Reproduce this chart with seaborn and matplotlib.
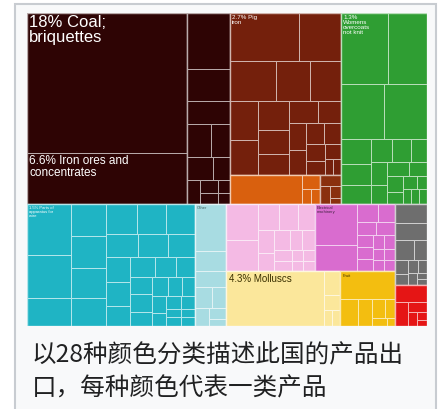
import matplotlib
matplotlib.use("Agg")
import matplotlib.pyplot as plt
from matplotlib.patches import Rectangle
import seaborn as sns

# export shares (%) per product, grouped by colour category
coal_iron = [18.0, 6.6]
minerals_other = [1.9, 1.1, 0.75, 0.65, 0.5, 0.45, 0.3, 0.25, 0.2, 0.15, 0.12, 0.1]
metals = [2.7, 1.6, 1.5, 1.1, 1.0, 0.9, 0.8, 0.7, 0.6, 0.5, 0.5, 0.4, 0.4,
          0.35, 0.3, 0.3, 0.25, 0.2, 0.2, 0.1, 0.1]
chemicals = [1.7, 0.2, 0.1, 0.1]
metals_small = [0.2, 0.15, 0.1, 0.05]
garments = [2.7, 2.2, 1.9, 1.9, 0.6, 0.5, 0.45, 0.4, 0.35, 0.3, 0.3, 0.25,
            0.25, 0.2, 0.2, 0.15, 0.15, 0.1, 0.1, 0.1, 0.1]
machinery = [1.8, 1.5, 1.0, 0.9, 0.9, 0.85, 0.8, 0.75, 0.7, 0.7, 0.6, 0.55,
             0.5, 0.5, 0.45, 0.4, 0.4, 0.35, 0.3, 0.3, 0.3, 0.25, 0.25, 0.2,
             0.2, 0.2, 0.15, 0.15, 0.15, 0.1, 0.1, 0.1, 0.1]
other_goods = [1.2, 0.5, 0.4, 0.3, 0.25, 0.2, 0.15, 0.1]
electronics = [0.9, 0.8, 0.45, 0.4, 0.35, 0.3, 0.25, 0.25, 0.2, 0.2, 0.15,
               0.15, 0.1, 0.1, 0.1, 0.1]
electrical = [1.4, 0.9, 0.3, 0.25, 0.2, 0.2, 0.15, 0.15, 0.15, 0.12, 0.12,
              0.1, 0.1, 0.1, 0.1]
seafood = [4.3, 0.3, 0.2, 0.1, 0.1]
foods = [1.2, 0.4, 0.3, 0.2, 0.15, 0.1, 0.05]
stone = [0.5, 0.45, 0.3, 0.2, 0.15, 0.12, 0.1, 0.1, 0.08, 0.05, 0.05]
transport = [0.45, 0.25, 0.15, 0.1, 0.07, 0.05]

group_values = {
    "coal_iron": coal_iron, "minerals_other": minerals_other, "metals": metals,
    "chemicals": chemicals, "metals_small": metals_small, "garments": garments,
    "machinery": machinery, "other_goods": other_goods,
    "electronics": electronics, "electrical": electrical, "seafood": seafood,
    "foods": foods, "stone": stone, "transport": transport,
}
group_colors = {
    "coal_iron": "#2e0404", "minerals_other": "#2e0404", "metals": "#74200c",
    "chemicals": "#d9600e", "metals_small": "#8a300e", "garments": "#2f9e33",
    "machinery": "#1fb4c4", "other_goods": "#a8dce2",
    "electronics": "#f4bae4", "electrical": "#d96ccf", "seafood": "#fbe79b",
    "foods": "#f3be10", "stone": "#6e6e6e", "transport": "#e51515",
}

# labels: (group, item index, text, fontsize, colour)
labels = [
    ("coal_iron", 0, "18% Coal;\nbriquettes", 12, "white"),
    ("coal_iron", 1, "6.6% Iron ores and\nconcentrates", 8.5, "white"),
    ("seafood", 0, "4.3% Molluscs", 7, "#3a3000"),
    ("metals", 0, "2.7% Pig\niron", 4.5, "white"),
    ("garments", 0, "1.3%\nWomens\novercoats\nnot knit", 4.5, "white"),
    ("machinery", 0, "1.5% Parts of\napparatus for\nwire", 3, "white"),
    ("other_goods", 0, "Other", 3, "#406060"),
    ("electrical", 0, "Electrical\nmachinery", 3, "#402040"),
    ("foods", 0, "Fruit", 3, "#403000"),
]

# layout tree: 'h' = side by side, 'v' = stacked, leaf = group name
layout = ("v", [
    ("h", [
        ("h", ["coal_iron", "minerals_other"]),
        ("v", ["metals", ("h", ["chemicals", "metals_small"])]),
        "garments",
    ]),
    ("h", [
        "machinery",
        "other_goods",
        ("v", [("h", ["electronics", "electrical"]), ("h", ["seafood", "foods"])]),
        ("v", ["stone", "transport"]),
    ]),
])


def node_total(node):
    if isinstance(node, str):
        return sum(group_values[node])
    return sum(node_total(c) for c in node[1])


def worst(row, side):
    s = sum(row)
    return max(max(side * side * r / (s * s), s * s / (side * side * r)) for r in row)


def squarify(values, x, y, w, h):
    scale = w * h / sum(values)
    areas = [v * scale for v in values]
    out = []
    while areas:
        side = min(w, h)
        row = [areas.pop(0)]
        while areas and worst(row + [areas[0]], side) <= worst(row, side):
            row.append(areas.pop(0))
        s = sum(row)
        if w >= h:
            cw = s / h
            yy = y
            for a in row:
                out.append((x, yy, cw, a / cw))
                yy += a / cw
            x += cw
            w -= cw
        else:
            rh = s / w
            xx = x
            for a in row:
                out.append((xx, y, a / rh, rh))
                xx += a / rh
            y += rh
            h -= rh
    return out


def place(node, x, y, w, h, result):
    if isinstance(node, str):
        result[node] = ((x, y, w, h), squarify(group_values[node], x, y, w, h))
        return
    direction, children = node
    tot = node_total(node)
    for c in children:
        frac = node_total(c) / tot
        if direction == "h":
            place(c, x, y, w * frac, h, result)
            x += w * frac
        else:
            place(c, x, y, w, h * frac, result)
            y += h * frac


sns.set_theme(style="white")
plt.rcParams["font.family"] = ["Liberation Sans Narrow", "Liberation Sans", "DejaVu Sans"]

fig = plt.figure(figsize=(4.42, 4.10), dpi=100, facecolor="white")

# thumbnail frame
frame = Rectangle((15 / 442, -0.05), 421 / 442, 1 - 5 / 410 + 0.05,
                  transform=fig.transFigure, facecolor="#f8f9fa",
                  edgecolor="#c8ccd1", linewidth=1.5, zorder=0)
fig.add_artist(frame)

ax = fig.add_axes([27 / 442, (410 - 327) / 410, 400 / 442, 313 / 410])
total = node_total(layout)
aspect = 400 / 313
W = (total * aspect) ** 0.5
H = total / W

rects = {}
place(layout, 0, 0, W, H, rects)

for name, (outer, cells) in rects.items():
    col = group_colors[name]
    edge = sns.blend_palette([col, "white"], 10)[6]
    for (x, y, w, h) in cells:
        ax.add_patch(Rectangle((x, y), w, h, facecolor=col, edgecolor=edge,
                               linewidth=0.7))
    ox, oy, ow, oh = outer
    ax.add_patch(Rectangle((ox, oy), ow, oh, facecolor="none", edgecolor=edge,
                           linewidth=1.0))

for name, idx, text, size, color in labels:
    x, y, w, h = rects[name][1][idx]
    ax.annotate(text, xy=(x, y), xytext=(1.5, -1), textcoords="offset points",
                ha="left", va="top", fontsize=size, color=color,
                linespacing=1.0)

ax.set_xlim(0, W)
ax.set_ylim(H, 0)
ax.set_axis_off()

cap_font = ["Noto Sans CJK SC", "DejaVu Sans"]
fig.text(32 / 442, 1 - 362 / 410, "以28种颜色分类描述此国的产品出",
         fontsize=17.7, family=cap_font, color="#202122", va="baseline")
fig.text(32 / 442, 1 - 395 / 410, "口，每种颜色代表一类产品",
         fontsize=17.7, family=cap_font, color="#202122", va="baseline")

plt.savefig("out.png", dpi=100, facecolor="white")
